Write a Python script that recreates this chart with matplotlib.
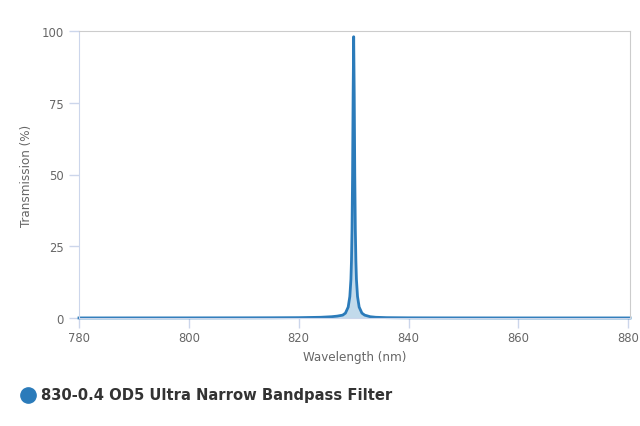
import matplotlib
matplotlib.use("Agg")
import matplotlib.pyplot as plt
from matplotlib.lines import Line2D

# Data
wavelength = [780, 790, 800, 810, 815, 820, 824, 826, 827, 828, 828.5, 829, 829.3,
              829.5, 829.6, 829.7, 829.8, 829.9, 830.0, 830.1, 830.2, 830.3, 830.4,
              830.5, 830.7, 831.0, 831.5, 832, 833, 834, 836, 840, 845, 850, 860,
              870, 880.3]
transmission = [0.02, 0.03, 0.04, 0.06, 0.08, 0.12, 0.25, 0.45, 0.65, 1.0, 1.7, 3.8, 7.5,
                13.5, 20, 31, 50, 78, 98, 78, 50, 31, 20,
                13.5, 7.5, 3.8, 1.7, 1.0, 0.45, 0.25, 0.12, 0.06, 0.04, 0.03, 0.02,
                0.02, 0.02]
series_name = "830-0.4 OD5 Ultra Narrow Bandpass Filter"
x_ticks = [780, 800, 820, 840, 860, 880]
y_ticks = [0, 25, 50, 75, 100]

line_color = "#2b7bba"
fill_color = "#bcd6e9"
axis_color = "#ccd6eb"
label_color = "#666666"

fig = plt.figure(figsize=(6.4, 4.27), dpi=100)
ax = fig.add_axes([79 / 640, (427 - 319) / 427, (630 - 79) / 640, (319 - 32) / 427])

ax.fill_between(wavelength, transmission, 0, color=fill_color, alpha=0.9, linewidth=0)
ax.plot(wavelength, transmission, color=line_color, linewidth=2, clip_on=False,
        solid_joinstyle="round")

ax.set_xlim(780, 880.3)
ax.set_ylim(0, 100)
ax.set_xticks(x_ticks)
ax.set_yticks(y_ticks)

ax.tick_params(axis="both", colors=axis_color, length=7.2, width=1,
               labelcolor=label_color, labelsize=9.3)
for lab in ax.get_xticklabels() + ax.get_yticklabels():
    lab.set_fontstretch("condensed")
ax.tick_params(axis="x", pad=2.5)
ax.tick_params(axis="y", pad=4)

for side in ["left", "bottom"]:
    ax.spines[side].set_color(axis_color)
for side in ["top", "right"]:
    ax.spines[side].set_color("#cccccc")

ax.set_xlabel("Wavelength (nm)", color=label_color, fontsize=9.5, labelpad=4,
              fontstretch="condensed")
ax.set_ylabel("Transmission (%)", color=label_color, fontsize=9.5, labelpad=6,
              fontstretch="condensed")

# Legend
fig.add_artist(Line2D([28 / 640], [(427 - 396) / 427], marker="o", markersize=11,
                      color=line_color, linestyle="none", transform=fig.transFigure))
fig.text(41 / 640, (427 - 396) / 427, series_name, fontsize=10.6, fontweight="bold",
         color="#333333", va="center", ha="left", family="DejaVu Sans")

fig.savefig("out.png", dpi=100)
